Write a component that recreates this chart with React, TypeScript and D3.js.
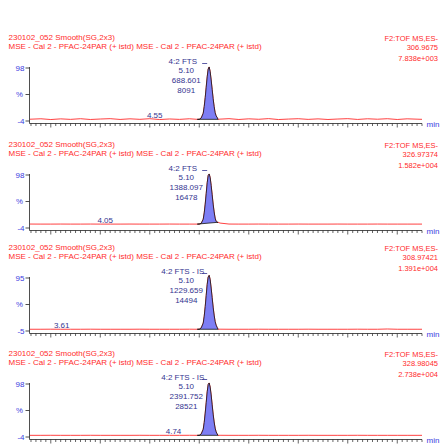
import React from 'react';
import * as d3 from 'd3';

// Shared retention time grid (min)
const retentionTimes = [
  3.29, 3.4, 3.5, 3.6, 3.7, 3.8, 3.9, 4.0, 4.1, 4.2, 4.3, 4.4, 4.5, 4.6, 4.7, 4.8, 4.9, 4.98,
  5.0, 5.02, 5.04, 5.05, 5.06, 5.07, 5.08, 5.09, 5.1, 5.11, 5.12, 5.13, 5.14, 5.15, 5.16, 5.17, 5.18, 5.19,
  5.21, 5.3, 5.4, 5.5, 5.6, 5.7, 5.8, 5.9, 6.0, 6.1, 6.2, 6.3, 6.4, 6.5, 6.6, 6.7, 6.8, 6.9, 7.0, 7.1, 7.2, 7.25,
];

// Relative intensity (%) per trace, aligned with retentionTimes
const intensityA = [
  -0.6, 0.3, -1.2, 0.1, -0.9, 0.4, -1.1, -0.2, 0.5, -1.0, 0.2, -0.8, 0.4, -1.2, -0.1, -0.9, 0.3, -0.8,
  -0.8, 2, 11, 24, 41, 61, 81, 96, 100, 91, 75, 57, 39, 24, 12, 6, 3, -0.8,
  -0.4, 0.5, -1.1, 0.2, -0.7, 0.6, -1.2, -0.3, 0.4, -0.9, 0.1, -1.1, -0.2, 0.5, -1.0, 0.3, -0.6, 0.4, -1.1, 0.2, -0.5, -0.8,
];
const intensityB = [
  3.6, 3.5, 3.5, 3.6, 3.5, 3.5, 3.6, 3.5, 3.5, 3.5, 3.6, 3.5, 3.5, 3.5, 3.6, 3.5, 3.5, 3.5,
  3.5, 5, 13, 25, 42, 62, 83, 97, 100, 93, 78, 60, 42, 27, 15, 9, 7, 7,
  5.5, 3.6, 3.5, 3.5, 3.6, 3.5, 3.5, 3.5, 3.6, 3.5, 3.5, 3.5, 3.6, 3.5, 3.5, 3.5, 3.6, 3.5, 3.5, 3.5, 3.5, 3.5,
];
const intensityC = [
  -1.7, -1.7, -1.6, -1.7, -1.7, -1.7, -1.6, -1.7, -1.7, -1.7, -1.7, -1.6, -1.7, -1.7, -1.7, -1.7, -1.6, -1.7,
  -1.7, 1, 10, 23, 41, 62, 83, 97, 100, 92, 76, 58, 40, 25, 13, 6, 2, -1.7,
  -1.6, -1.7, -1.7, -1.7, -1.6, -1.7, -1.7, -1.7, -1.7, -1.6, -1.7, -1.7, -1.7, -1.7, -1.6, -1.7, -1.7, -1.2, -1.7, -1.7, -1.7, -1.7,
];
const intensityD = [
  -0.8, -0.8, -0.7, -0.8, -0.8, -0.8, -0.7, -0.8, -0.8, -0.8, -0.8, -0.7, -0.8, -0.8, -0.8, -0.8, -0.7, -0.8,
  -0.8, 2, 11, 24, 42, 62, 83, 97, 100, 92, 77, 58, 40, 25, 13, 6, 2, -0.8,
  -0.7, -0.8, -0.8, -0.8, -0.7, -0.8, -0.8, -0.8, -0.8, -0.7, -0.8, -0.8, -0.8, -0.8, -0.7, -0.8, -0.8, -0.8, -0.8, -0.8, -0.8, -0.8,
];
const traceIntensities = [intensityA, intensityB, intensityC, intensityD];

const sampleTitle = '230102_052 Smooth(SG,2x3)';
const methodTitle = 'MSE - Cal 2 - PFAC-24PAR (+ istd) MSE - Cal 2 - PFAC-24PAR (+ istd)';
const channelNames = ['F2:TOF MS,ES-', 'F2:TOF MS,ES-', 'F2:TOF MS,ES-', 'F2:TOF MS,ES-'];
const targetMasses = ['306.9675', '326.97374', '308.97421', '328.98045'];
const fullScaleIntensities = ['7.838e+003', '1.582e+004', '1.391e+004', '2.738e+004'];
const compoundNames = ['4:2 FTS', '4:2 FTS', '4:2 FTS - IS', '4:2 FTS - IS'];
const peakTimes = [5.1, 5.1, 5.1, 5.1];
const peakHeights = ['688.601', '1388.097', '1229.659', '2391.752'];
const peakAreas = ['8091', '16478', '14494', '28521'];
const minorPeakTimes = [4.55, 4.05, 3.61, 4.74];
const yMaxValues = [98, 98, 95, 98];
const yMinValues = [-4, -4, -5, -4];
const peakStart = 4.99;
const peakEnd = 5.19;
const timeTickLabels = ['3.50', '4.00', '4.50', '5.00', '5.50', '6.00', '6.50', '7.00'];

const W = 440;
const H = 447;
const panelTops = [30, 137, 240, 346];
const xLeft = 30;
const xRight = 422;

const RED = '#ff2b2b';
const AXIS_BLUE = '#3a3ae0';
const LABEL_BLUE = '#34348f';
const PEAK_FILL = '#7e7ef4';
const FONT = 'Liberation Sans, Arial, sans-serif';

const x = d3.scaleLinear().domain([3.29, 7.25]).range([xLeft, xRight]);

const tickValues = d3.range(66, 146).map((i) => i * 0.05);

function Panel({ index }: { index: number }) {
  const top = panelTops[index];
  const values = traceIntensities[index];
  const yMax = yMaxValues[index];
  const yMin = yMinValues[index];
  const y = d3.scaleLinear().domain([yMin, yMax]).range([top + 91, top + 38]);
  const axisY = top + 93.5;

  const points: [number, number][] = retentionTimes.map((t, i) => [t, values[i]]);
  const line = d3
    .line<[number, number]>()
    .x((d) => x(d[0]))
    .y((d) => y(d[1]));

  const peakPts = points.filter((d) => d[0] >= peakStart - 0.011 && d[0] <= peakEnd + 0.001);
  const peakPath = line(peakPts) + 'Z';

  const apexT = peakTimes[index];
  const apexX = x(apexT);
  const apexY = y(100);

  const bis = d3.bisector((d: [number, number]) => d[0]).left;
  const mt = minorPeakTimes[index];
  const j = Math.min(bis(points, mt), points.length - 1);
  const minorY = y(points[j][1]) - 1.5;

  const labelBase = top + 33.5;
  const lineGap = 9.7;

  return (
    <g>
      <text x={8.5} y={top + 9.6} fontSize={8} fill={RED} fontFamily={FONT}>
        {sampleTitle}
      </text>
      <text x={8.5} y={top + 18.8} fontSize={8} fill={RED} fontFamily={FONT}>
        {methodTitle}
      </text>
      <text x={438} y={top + 10.5} fontSize={7.5} fill={RED} fontFamily={FONT} textAnchor="end">
        {channelNames[index]}
      </text>
      <text x={438} y={top + 20.3} fontSize={7.5} fill={RED} fontFamily={FONT} textAnchor="end">
        {targetMasses[index]}
      </text>
      <text x={438} y={top + 30.5} fontSize={7.5} fill={RED} fontFamily={FONT} textAnchor="end">
        {fullScaleIntensities[index]}
      </text>

      {/* y axis */}
      <line x1={xLeft - 0.5} x2={xLeft - 0.5} y1={y(yMax) - 1} y2={axisY} stroke="#222" strokeWidth={0.8} />
      {[yMax, (yMax + yMin) / 2, yMin].map((v, k) => (
        <line key={k} x1={xLeft - 4.5} x2={xLeft - 0.5} y1={y(v)} y2={y(v)} stroke="#222" strokeWidth={0.8} />
      ))}
      <text x={24.5} y={y(yMax) + 2.8} fontSize={8} fill={AXIS_BLUE} fontFamily={FONT} textAnchor="end">
        {yMax}
      </text>
      <text x={23} y={y((yMax + yMin) / 2) + 2.8} fontSize={7.8} fill={AXIS_BLUE} fontFamily={FONT} textAnchor="end">
        %
      </text>
      <text x={24.5} y={y(yMin) + 2.8} fontSize={8} fill={AXIS_BLUE} fontFamily={FONT} textAnchor="end">
        {yMin}
      </text>

      {/* x axis */}
      <line x1={xLeft - 0.5} x2={xRight} y1={axisY} y2={axisY} stroke="#222" strokeWidth={0.8} />
      {tickValues.map((t, k) => {
        const major = Math.abs(t * 2 - Math.round(t * 2)) < 1e-6;
        return (
          <line
            key={k}
            x1={x(t)}
            x2={x(t)}
            y1={axisY}
            y2={axisY + (major ? 4 : 2.5)}
            stroke="#222"
            strokeWidth={0.7}
          />
        );
      })}
      <text x={426.5} y={top + 97.3} fontSize={8} fill={AXIS_BLUE} fontFamily={FONT}>
        min
      </text>
      {index === panelTops.length - 1 &&
        timeTickLabels.map((lab) => (
          <text key={lab} x={x(+lab)} y={axisY + 12.5} fontSize={7.8} fill={AXIS_BLUE} fontFamily={FONT} textAnchor="middle">
            {lab}
          </text>
        ))}

      {/* trace */}
      <path d={line(points) || ''} fill="none" stroke={RED} strokeWidth={0.9} />
      <path d={peakPath} fill={PEAK_FILL} stroke="#111" strokeWidth={0.8} strokeLinejoin="round" />

      {/* peak annotations */}
      <text x={apexX - 26.4} y={labelBase} fontSize={8} fill={LABEL_BLUE} fontFamily={FONT} textAnchor="middle">
        {compoundNames[index]}
      </text>
      <line x1={apexX - 7} x2={apexX - 2} y1={Math.min(labelBase, apexY + 2)} y2={Math.min(labelBase, apexY + 2)} stroke={LABEL_BLUE} strokeWidth={0.8} />
      <text x={apexX - 22.9} y={labelBase + lineGap} fontSize={8} fill={LABEL_BLUE} fontFamily={FONT} textAnchor="middle">
        {apexT.toFixed(2)}
      </text>
      <text x={apexX - 22.9} y={labelBase + lineGap * 2} fontSize={8} fill={LABEL_BLUE} fontFamily={FONT} textAnchor="middle">
        {peakHeights[index]}
      </text>
      <text x={apexX - 22.9} y={labelBase + lineGap * 3} fontSize={8} fill={LABEL_BLUE} fontFamily={FONT} textAnchor="middle">
        {peakAreas[index]}
      </text>
      <text x={x(mt)} y={minorY} fontSize={8} fill={LABEL_BLUE} fontFamily={FONT} textAnchor="middle">
        {mt.toFixed(2)}
      </text>
    </g>
  );
}

export default function App() {
  return (
    <svg
      width={W}
      height={H}
      viewBox={`0 0 ${W} ${H}`}
      style={{ position: 'absolute', left: 0, top: 0, background: '#fff' }}
    >
      <rect width={W} height={H} fill="#fff" />
      {panelTops.map((_, i) => (
        <Panel key={i} index={i} />
      ))}
    </svg>
  );
}
